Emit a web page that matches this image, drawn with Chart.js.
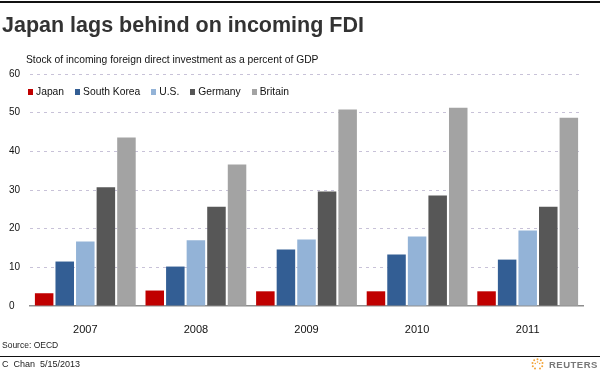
<!DOCTYPE html>
<html><head><meta charset="utf-8">
<script src="https://cdn.jsdelivr.net/npm/chart.js@4.4.1/dist/chart.umd.min.js"></script>
<style>
html,body{margin:0;padding:0;background:#fff;}
#wrap{position:relative;width:600px;height:371px;overflow:hidden;font-family:"Liberation Sans",Arial,sans-serif;}
#c{position:absolute;left:0;top:0;}
.abs{position:absolute;white-space:nowrap;}
#topline{left:0;top:1px;width:600px;height:2px;background:#111;}
#title{left:2px;top:13px;font-size:21.5px;font-weight:bold;color:#333;}
#sub{left:26px;top:54px;font-size:10.3px;color:#111;}
#legend{left:28px;top:86px;font-size:10.3px;color:#111;display:flex;}
#legend .it{display:flex;align-items:center;margin-right:11px;}
#legend .bx{width:5px;height:6px;margin-right:3px;}
#src{left:2px;top:340px;font-size:8.5px;color:#222;}
#botline{left:0;top:356px;width:600px;height:1px;background:#111;}
#by{left:2px;top:359px;font-size:9px;color:#222;}
#date{left:40px;top:359px;font-size:9px;color:#222;}
#logo{left:531px;top:358px;display:flex;align-items:center;}
#logo span{font-size:9.5px;font-weight:bold;color:#777;letter-spacing:0.5px;margin-left:5px;}
</style></head>
<body>
<div id="wrap">
<canvas id="c" width="600" height="371"></canvas>
<div id="topline" class="abs"></div>
<div id="title" class="abs">Japan lags behind on incoming FDI</div>
<div id="sub" class="abs">Stock of incoming foreign direct investment as a percent of GDP</div>
<div id="legend" class="abs"></div>
<div id="src" class="abs">Source: OECD</div>
<div id="botline" class="abs"></div>
<div id="by" class="abs">C&nbsp;&nbsp;Chan</div>
<div id="date" class="abs">5/15/2013</div>
<div id="logo" class="abs"><svg width="13" height="12" viewBox="0 0 13 12">
<g fill="#f2a43a">
<circle cx="6.5" cy="1.2" r="1"/><circle cx="3.2" cy="2.2" r="1"/><circle cx="9.8" cy="2.2" r="1"/>
<circle cx="1.5" cy="5" r="1"/><circle cx="11.5" cy="5" r="1"/><circle cx="1.8" cy="8.2" r="1"/>
<circle cx="11.2" cy="8.2" r="1"/><circle cx="4" cy="10.5" r="1"/><circle cx="9" cy="10.5" r="1"/>
<circle cx="6.5" cy="4" r="0.8"/><circle cx="4.3" cy="5.5" r="0.8"/><circle cx="8.7" cy="5.5" r="0.8"/>
</g></svg><span>REUTERS</span></div>
</div>
<script>
const categories = ["2007", "2008", "2009", "2010", "2011"];
const japan      = [3.3, 4.0, 3.8, 3.8, 3.8];
const southKorea = [11.5, 10.2, 14.6, 13.3, 12.0];
const us         = [16.7, 17.0, 17.2, 18.0, 19.5];
const germany    = [30.7, 25.7, 29.6, 28.6, 25.7];
const britain    = [43.6, 36.6, 50.8, 51.3, 48.7];
const seriesNames = ["Japan", "South Korea", "U.S.", "Germany", "Britain"];
const yTicks = [0, 10, 20, 30, 40, 50, 60];

const colors = ["#c00000", "#335e94", "#93b3d7", "#575757", "#a3a3a3"];
const seriesData = [japan, southKorea, us, germany, britain];

const leg = document.getElementById('legend');
seriesNames.forEach((n, i) => {
  const it = document.createElement('div'); it.className = 'it';
  const bx = document.createElement('div'); bx.className = 'bx'; bx.style.background = colors[i];
  const tx = document.createElement('span'); tx.textContent = n;
  it.appendChild(bx); it.appendChild(tx); leg.appendChild(it);
});

new Chart(document.getElementById('c'), {
  type: 'bar',
  data: {
    labels: categories,
    datasets: seriesNames.map((n, i) => ({
      label: n, data: seriesData[i], backgroundColor: colors[i],
      borderWidth: 0, categoryPercentage: 0.93, barPercentage: 0.9
    }))
  },
  options: {
    responsive: false, animation: false,
    layout: { padding: { left: 9, top: 74, right: 17, bottom: 35 } },
    plugins: { legend: { display: false }, tooltip: { enabled: false } },
    scales: {
      x: {
        grid: { display: false },
        border: { display: true, color: '#8e8e8e', width: 1.5 },
        ticks: { color: '#111', font: { family: 'Liberation Sans', size: 11 }, padding: 9 },
        afterFit: s => { s.height = 30; }
      },
      y: {
        min: 0, max: 60,
        afterBuildTicks: s => { s.ticks = yTicks.map(v => ({ value: v })); },
        border: { display: false, dash: [3, 4] },
        grid: {
          drawTicks: false,
          color: ctx => ctx.tick && ctx.tick.value === 0 ? 'rgba(0,0,0,0)' : '#c8c2d8',
          lineWidth: 1
        },
        ticks: { color: '#111', crossAlign: 'far', padding: 4, font: { family: 'Liberation Sans', size: 10 } },
        afterFit: s => { s.width = 21; }
      }
    }
  }
});
</script>
</body></html>
